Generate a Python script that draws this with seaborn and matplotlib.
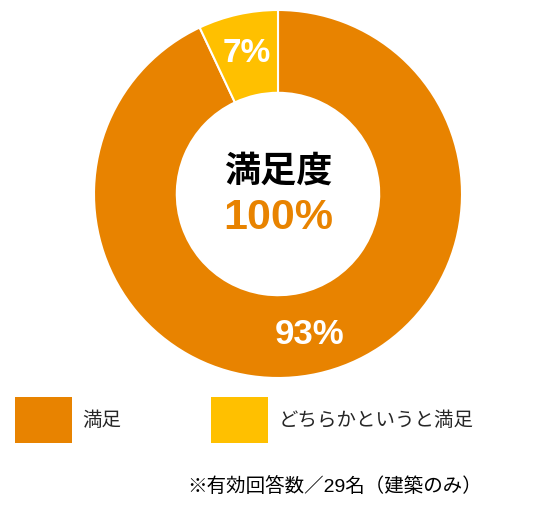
import matplotlib
matplotlib.use("Agg")
import matplotlib.pyplot as plt
import seaborn as sns
from matplotlib.patches import Patch

# data
categories = ["満足", "どちらかというと満足"]
shares = [93, 7]
colors = ["#E88300", "#FFC000"]
center_title = "満足度"
center_value = "100%"
footnote = "※有効回答数／29名（建築のみ）"

sns.set_theme(style="white")
plt.rcParams['font.family'] = ['Liberation Sans', 'Noto Sans CJK JP', 'DejaVu Sans']

fig = plt.figure(figsize=(5.37, 5.11), dpi=100)
# donut centre ~ (278, 194) px, outer radius ~184 px
ax = fig.add_axes([94 / 537, 133 / 511, 368 / 537, 368 / 511])

wedges, texts, autotexts = ax.pie(
    shares,
    colors=colors,
    startangle=90,
    counterclock=False,
    radius=1.0,
    wedgeprops=dict(width=0.45, edgecolor="white", linewidth=1.5),
    autopct=lambda p: f"{p:.0f}%",
    pctdistance=0.78,
)
for t, size in zip(autotexts, [25, 24]):
    t.set_color("white")
    t.set_fontweight("bold")
    t.set_fontsize(size)

ax.set_xlim(-1, 1)
ax.set_ylim(-1, 1)
ax.set_aspect("equal")
ax.axis("off")

ax.text(0, 0.12, center_title, ha="center", va="center",
        fontsize=26, fontweight="bold", color="black")
ax.text(0, -0.13, center_value, ha="center", va="center",
        fontsize=31, fontweight="bold", color=colors[0])

handles = [Patch(facecolor=c, edgecolor="none") for c in colors]
fig.legend(
    handles, categories,
    loc="center left",
    bbox_to_anchor=(-3 / 537, 1 - 420 / 511),
    ncol=2,
    frameon=False,
    fontsize=14,
    handlelength=2.95,
    handleheight=3.3,
    handletextpad=0.55,
    columnspacing=4.6,
)

fig.text(482 / 537, 1 - 487 / 511, footnote, ha="right", va="center",
         fontsize=14, color="black")

fig.savefig("out.png", dpi=100)
